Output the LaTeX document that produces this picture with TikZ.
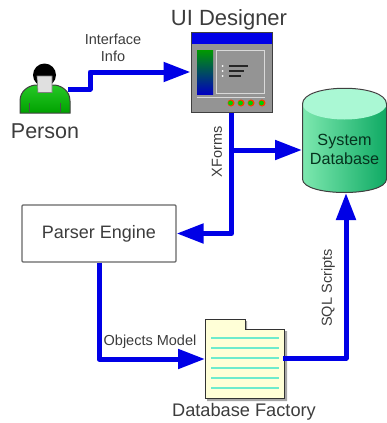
\documentclass[tikz,border=0pt]{standalone}
\usepackage{fontspec}
\setmainfont{Liberation Sans}
\usetikzlibrary{arrows.meta}

\definecolor{flowblue}{RGB}{0,0,230}
\definecolor{txtgray}{RGB}{60,60,60}
\definecolor{dbdark}{RGB}{15,170,100}
\definecolor{dbmid}{RGB}{125,232,175}
\definecolor{dblight}{RGB}{170,248,212}
\definecolor{foldercol}{RGB}{255,255,215}
\definecolor{rulecol}{RGB}{110,235,205}
\definecolor{shirt}{RGB}{0,190,0}

\begin{document}
\begin{tikzpicture}[
			x = 1pt,
			y = -1pt,
			every node/.style = {text=txtgray,inner sep=0pt},
			flow/.style = {draw=flowblue,line width=5pt,line join=round,-{Triangle[length=27pt,width=19pt]}},
			small/.style = {font=\fontsize{14.5}{17}\selectfont},
			big/.style = {font=\fontsize{21.5}{24}\selectfont},
			title/.style = {font=\fontsize{22}{24}\selectfont},
			edge/.style = {draw=black!75,line width=1pt}
			]

			\useasboundingbox (0,0) rectangle (387,423);

			% person
			\draw[edge,top color=shirt!85!white,bottom color=shirt!85!black] (20,113) -- (20,101) .. controls (20,91) and (28,86) .. (35,85) -- (55,85) .. controls (62,86) and (70,91) .. (70,101) -- (70,113) -- cycle;
			\draw[black!70,line width=0.8pt] (29,103) -- (29,112) (60,103) -- (60,112);
			\fill[black] (44.5,75) ellipse [x radius=11.5,y radius=11.5];
			\draw[black!50,fill=black!12,line width=0.6pt] (37,76) -- (52,76) -- (52,92.5) -- (38,92.5) -- cycle;
			\coordinate (personout) at (68,89);
			\node[big] (person) at (45,131) {Person};

			% window
			\node[edge,fill=black!42,minimum width=81pt,minimum height=80pt] (ui) at (231.5,72) {};
			\fill[flowblue] (191.5,32.5) rectangle (271.5,44);
			\shade[top color=green!60!black,bottom color=blue!75!black] (197,50) rectangle (213,94);
			\draw[black!15,fill=black!42,line width=1pt] (216,50.5) rectangle (264.5,93.5);
			\draw[black!85,line width=1.5pt] (229,66) -- (248,66) (229,71) -- (244,71) (229,76) -- (241,76);
			\foreach \y in {66,71,76}
				\fill[white] (222.5,\y) circle (1);
			\draw[black!15,line width=1pt] (197,97) -- (265,97);
			\foreach \x in {231,241,251,262}
				{\fill[red!55!orange] (\x,103) circle (3.5);
				\fill[green!80!black] (\x-0.5,103) circle (2.4);}
			\node[title] (uititle) at (229,19.5) {UI Designer};

			% database
			\fill[left color=dbmid,right color=dbdark] (302.5,104) -- (302.5,179) .. controls (302.5,197) and (386.5,197) .. (386.5,179) -- (386.5,104) -- cycle;
			\fill[dblight,draw=none] (344.5,104) ellipse [x radius=42,y radius=15.5];
			\draw[edge] (302.5,179) -- (302.5,104) .. controls (302.5,83) and (386.5,83) .. (386.5,104) -- (386.5,179) .. controls (386.5,197) and (302.5,197) .. (302.5,179);
			\node[align=center,font=\fontsize{16.2}{19}\selectfont,text=black!70!dbdark] (db) at (344.5,149) {System\\Database};
			\coordinate (dbleft) at (302,150);
			\coordinate (dbbottom) at (346,193);

			% parser
			\node[draw=black!60,line width=1.2pt,rounded corners=1pt,fill=white,minimum width=154pt,minimum height=57pt,font=\fontsize{18}{20}\selectfont] (parser) at (99,233.5) {Parser Engine};

			% folder
			\fill[black!35] (207,321) -- (247,321) -- (247,331) -- (287,331) -- (287,401) -- (207,401) -- cycle;
			\draw[black!80,line width=1pt,fill=foldercol] (205.5,319.5) -- (245,319.5) -- (245,329) -- (284,329) -- (284,398) -- (205.5,398) -- cycle;
			\foreach \y in {338,348,358,368,378,388}
				\draw[rulecol,line width=1.2pt] (211,\y) -- (279,\y);
			\coordinate (factin) at (205,359);
			\coordinate (factout) at (283,358);
			\node[font=\fontsize{18.2}{20}\selectfont] (factory) at (244,412) {Database Factory};

			% connectors
			\draw[flow] (personout) -- (90,89) -- (90,72) -- (ui.west);
			\draw[flow] (ui.south) |- (parser.east);
			\coordinate (branch) at (231.5,150);
			\draw[flow] (branch) -- (dbleft);
			\draw[flow] (parser.south) |- (factin);
			\draw[flow] (factout) -| (dbbottom);

			% labels
			\node[small,align=center] (ifinfo) at (113,47.5) {Interface\\Info};
			\node[small,rotate=90] (xforms) at (217,152) {XForms};
			\node[small,rotate=90] (sqlscripts) at (328,288) {SQL Scripts};
			\node[small] (objmodel) at (150,342) {Objects Model};

		\end{tikzpicture}
\end{document}
